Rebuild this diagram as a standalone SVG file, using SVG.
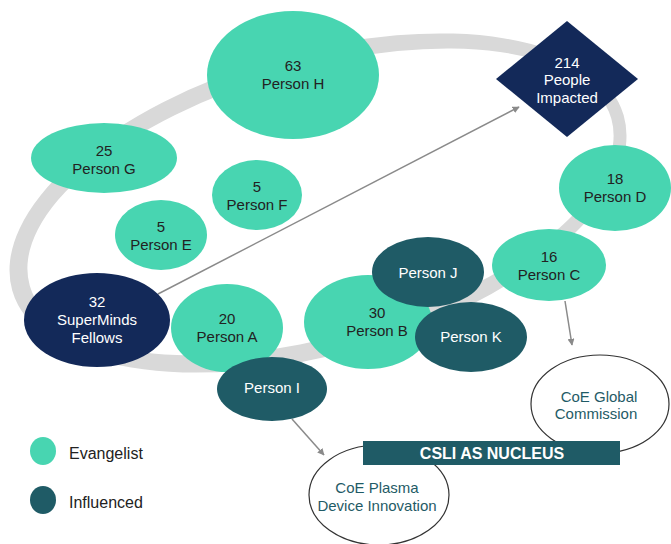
<svg xmlns="http://www.w3.org/2000/svg" width="671" height="544" viewBox="0 0 671 544">
<defs>
<marker id="ah" viewBox="0 0 10 10" refX="9" refY="5" markerWidth="7" markerHeight="7" orient="auto" markerUnits="userSpaceOnUse">
<path d="M0,0 L10,5 L0,10 z" fill="#8a8a8a"/>
</marker>
<style>
.ev{fill:#48d5b1}
.inf{fill:#1f5b66}
.nav{fill:#132959}
.coe{fill:#fff;stroke:#333;stroke-width:1.2}
text{font-family:"Liberation Sans",Arial,sans-serif;font-size:15px;text-anchor:middle}
.dk{fill:#222}
.wt{fill:#fff}
.tl{fill:#1f5b66}
.lg{font-size:16px;text-anchor:start}
.conn{stroke:#8a8a8a;stroke-width:1.5;fill:none;marker-end:url(#ah)}
</style>
</defs>
<rect width="671" height="544" fill="#fff"/>
<g id="ring">
<ellipse cx="318" cy="203" rx="318" ry="151" transform="rotate(-16 318 203)" fill="#d9d9d9"/>
<ellipse cx="320.5" cy="202" rx="302.5" ry="134" transform="rotate(-16 320.5 202)" fill="#fff"/>
</g>

<g id="connectors">
<line class="conn" x1="158" y1="294" x2="519" y2="107"/>
<line class="conn" x1="292" y1="419" x2="324" y2="455"/>
<line class="conn" x1="565" y1="301" x2="572" y2="345"/>
</g>

<g id="coe-global"><ellipse class="coe" cx="600" cy="404" rx="69" ry="49"/><text class="tl" x="599" y="402">CoE Global</text><text class="tl" x="596" y="419">Commission</text></g>
<g id="coe-plasma"><ellipse class="coe" cx="379" cy="495" rx="70" ry="50"/><text class="tl" x="377" y="493">CoE Plasma</text><text class="tl" x="377" y="511">Device Innovation</text></g>
<g id="csli"><rect x="363" y="441" width="257" height="24" fill="#1f5b66"/><text class="wt" x="492" y="459" style="font-weight:bold;font-size:16px">CSLI AS NUCLEUS</text></g>

<g id="person-h"><ellipse class="ev" cx="293" cy="75" rx="86" ry="64"/><text class="dk" x="293" y="71">63</text><text class="dk" x="293" y="89">Person H</text></g>
<g id="person-g"><ellipse class="ev" cx="104" cy="158" rx="73" ry="35"/><text class="dk" x="104" y="156">25</text><text class="dk" x="104" y="174">Person G</text></g>
<g id="person-f"><ellipse class="ev" cx="257" cy="195" rx="45" ry="35"/><text class="dk" x="257" y="192">5</text><text class="dk" x="257" y="210">Person F</text></g>
<g id="person-e"><ellipse class="ev" cx="161" cy="235" rx="46" ry="35"/><text class="dk" x="161" y="232">5</text><text class="dk" x="161" y="250">Person E</text></g>
<g id="people-impacted"><polygon class="nav" points="567,21 638,79 567,137 496,79"/><text class="wt" x="567" y="68">214</text><text class="wt" x="567" y="85">People</text><text class="wt" x="567" y="103">Impacted</text></g>
<g id="person-d"><ellipse class="ev" cx="615" cy="188" rx="56" ry="43"/><text class="dk" x="615" y="184">18</text><text class="dk" x="615" y="202">Person D</text></g>
<g id="person-c"><ellipse class="ev" cx="549" cy="265" rx="57" ry="36"/><text class="dk" x="549" y="262">16</text><text class="dk" x="549" y="280">Person C</text></g>
<g id="superminds"><ellipse class="nav" cx="97" cy="320" rx="73" ry="47"/><text class="wt" x="97" y="307">32</text><text class="wt" x="97" y="325">SuperMinds</text><text class="wt" x="97" y="343">Fellows</text></g>
<g id="person-a"><ellipse class="ev" cx="227" cy="328" rx="56" ry="44"/><text class="dk" x="227" y="324">20</text><text class="dk" x="227" y="342">Person A</text></g>
<g id="person-b"><ellipse class="ev" cx="368" cy="322" rx="64" ry="47"/><text class="dk" x="377" y="318">30</text><text class="dk" x="377" y="336">Person B</text></g>
<g id="person-j"><ellipse class="inf" cx="428" cy="272" rx="56" ry="35"/><text class="wt" x="428" y="278">Person J</text></g>
<g id="person-k"><ellipse class="inf" cx="471" cy="337" rx="56" ry="35"/><text class="wt" x="471" y="342">Person K</text></g>
<g id="person-i"><ellipse class="inf" cx="272" cy="389" rx="55" ry="32"/><text class="wt" x="272" y="393">Person I</text></g>

<g id="legend">
<ellipse class="ev" cx="43" cy="451" rx="13" ry="14"/><text class="dk lg" x="69" y="459">Evangelist</text>
<ellipse class="inf" cx="43" cy="500" rx="13" ry="14"/><text class="dk lg" x="69" y="508">Influenced</text>
</g>
</svg>
